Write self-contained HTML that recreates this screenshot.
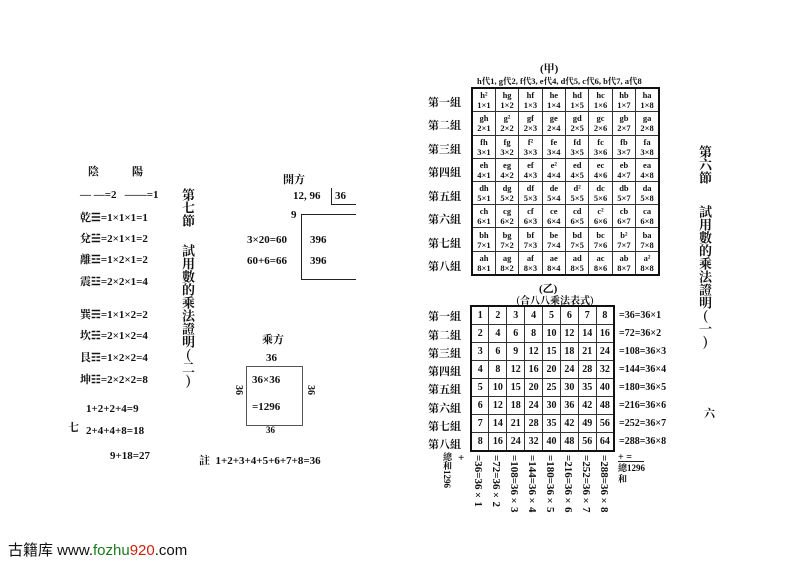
<!DOCTYPE html>
<html><head><meta charset="utf-8"><style>
body{margin:0;width:793px;height:561px;background:#fff;position:relative;overflow:hidden;font-family:"Liberation Serif","Noto Serif CJK SC",serif;color:#111;font-weight:bold}
.a{position:absolute;white-space:nowrap}
.v{position:absolute;writing-mode:vertical-rl;text-orientation:upright;font-size:13px;line-height:14px;font-family:"Noto Serif CJK SC",serif}
.vs{position:absolute;writing-mode:vertical-rl;font-size:11px;white-space:nowrap}
table{position:absolute;border-collapse:collapse;table-layout:fixed;border:2px solid #111}
td{border:1px solid #333;padding:0;text-align:center;overflow:hidden}
.j td{font-size:8.5px;line-height:10px}
.y td{font-size:10px}
.lb{position:absolute;font-size:11px;font-family:"Noto Serif CJK SC",serif}
.f{font-size:11px}
</style></head><body>
<!-- left page -->
<div class="a f" style="left:88px;top:163px">陰</div>
<div class="a f" style="left:132px;top:163px">陽</div>
<div class="a f" style="left:80px;top:189px">— —=2 &nbsp; ——=1</div>
<div class="a f" style="left:80px;top:209px">乾☰=1×1×1=1</div>
<div class="a f" style="left:80px;top:230px">兌☱=2×1×1=2</div>
<div class="a f" style="left:80px;top:251px">離☲=1×2×1=2</div>
<div class="a f" style="left:80px;top:273px">震☳=2×2×1=4</div>
<div class="a f" style="left:80px;top:306px">巽☴=1×1×2=2</div>
<div class="a f" style="left:80px;top:327px">坎☵=2×1×2=4</div>
<div class="a f" style="left:80px;top:349px">艮☶=1×2×2=4</div>
<div class="a f" style="left:80px;top:371px">坤☷=2×2×2=8</div>
<div class="a f" style="left:86px;top:403px">1+2+2+4=9</div>
<div class="a f" style="left:68px;top:419px">七</div>
<div class="a f" style="left:86px;top:425px">2+4+4+8=18</div>
<div class="a f" style="left:110px;top:450px">9+18=27</div>
<div class="v" style="left:181px;top:188px">第七節</div>
<div class="v" style="left:181px;top:244px">試用數的乘法證明(二)</div>
<div class="a f" style="left:283px;top:171px">開方</div>
<div class="a f" style="left:293px;top:190px">12, 96</div>
<div class="a" style="left:331px;top:188px;width:1px;height:16px;background:#222"></div>
<div class="a f" style="left:335px;top:190px">36</div>
<div class="a" style="left:331px;top:204px;width:25px;height:1px;background:#222"></div>
<div class="a" style="left:301px;top:214px;width:1px;height:66px;background:#222"></div>
<div class="a" style="left:301px;top:214px;width:55px;height:1px;background:#222"></div>
<div class="a" style="left:301px;top:279px;width:55px;height:1px;background:#222"></div>
<div class="a f" style="left:291px;top:209px">9</div>
<div class="a f" style="left:247px;top:234px">3×20=60</div>
<div class="a f" style="left:310px;top:234px">396</div>
<div class="a f" style="left:247px;top:255px">60+6=66</div>
<div class="a f" style="left:310px;top:255px">396</div>
<div class="a f" style="left:262px;top:331px">乘方</div>
<div class="a f" style="left:266px;top:352px">36</div>
<div class="a" style="left:246px;top:366px;width:55px;height:58px;border:1px solid #555"></div>
<div class="a f" style="left:252px;top:374px">36×36</div>
<div class="a f" style="left:252px;top:401px">=1296</div>
<div class="vs" style="left:233px;top:385px;font-size:10px">36</div>
<div class="vs" style="left:305px;top:385px;font-size:10px">36</div>
<div class="a" style="left:266px;top:425px;font-size:9px">36</div>
<div class="a f" style="left:199px;top:452px">註 &nbsp;1+2+3+4+5+6+7+8=36</div>
<!-- right page -->
<div class="a f" style="left:540px;top:60px">(甲)</div>
<div class="a" style="left:477px;top:75px;font-size:8.5px">h代1, g代2, f代3, e代4, d代5, c代6, b代7, a代8</div>
<table class="j" style="left:471px;top:87px;width:189px;height:189px">
<tr><td>h²<br>1×1</td><td>hg<br>1×2</td><td>hf<br>1×3</td><td>he<br>1×4</td><td>hd<br>1×5</td><td>hc<br>1×6</td><td>hb<br>1×7</td><td>ha<br>1×8</td></tr>
<tr><td>gh<br>2×1</td><td>g²<br>2×2</td><td>gf<br>2×3</td><td>ge<br>2×4</td><td>gd<br>2×5</td><td>gc<br>2×6</td><td>gb<br>2×7</td><td>ga<br>2×8</td></tr>
<tr><td>fh<br>3×1</td><td>fg<br>3×2</td><td>f²<br>3×3</td><td>fe<br>3×4</td><td>fd<br>3×5</td><td>fc<br>3×6</td><td>fb<br>3×7</td><td>fa<br>3×8</td></tr>
<tr><td>eh<br>4×1</td><td>eg<br>4×2</td><td>ef<br>4×3</td><td>e²<br>4×4</td><td>ed<br>4×5</td><td>ec<br>4×6</td><td>eb<br>4×7</td><td>ea<br>4×8</td></tr>
<tr><td>dh<br>5×1</td><td>dg<br>5×2</td><td>df<br>5×3</td><td>de<br>5×4</td><td>d²<br>5×5</td><td>dc<br>5×6</td><td>db<br>5×7</td><td>da<br>5×8</td></tr>
<tr><td>ch<br>6×1</td><td>cg<br>6×2</td><td>cf<br>6×3</td><td>ce<br>6×4</td><td>cd<br>6×5</td><td>c²<br>6×6</td><td>cb<br>6×7</td><td>ca<br>6×8</td></tr>
<tr><td>bh<br>7×1</td><td>bg<br>7×2</td><td>bf<br>7×3</td><td>be<br>7×4</td><td>bd<br>7×5</td><td>bc<br>7×6</td><td>b²<br>7×7</td><td>ba<br>7×8</td></tr>
<tr><td>ah<br>8×1</td><td>ag<br>8×2</td><td>af<br>8×3</td><td>ae<br>8×4</td><td>ad<br>8×5</td><td>ac<br>8×6</td><td>ab<br>8×7</td><td>a²<br>8×8</td></tr>
</table>
<div class="lb" style="left:428px;top:94px">第一組</div>
<div class="lb" style="left:428px;top:117px">第二組</div>
<div class="lb" style="left:428px;top:141px">第三組</div>
<div class="lb" style="left:428px;top:164px">第四組</div>
<div class="lb" style="left:428px;top:188px">第五組</div>
<div class="lb" style="left:428px;top:211px">第六組</div>
<div class="lb" style="left:428px;top:235px">第七組</div>
<div class="lb" style="left:428px;top:258px">第八組</div>
<div class="a f" style="left:539px;top:280px">(乙)</div>
<div class="a" style="left:516px;top:292px;font-size:10px;font-family:'Noto Serif CJK SC',serif">(合八八乘法表式)</div>
<table class="y" style="left:470px;top:305px;width:145px;height:147px">
<tr><td>1</td><td>2</td><td>3</td><td>4</td><td>5</td><td>6</td><td>7</td><td>8</td></tr>
<tr><td>2</td><td>4</td><td>6</td><td>8</td><td>10</td><td>12</td><td>14</td><td>16</td></tr>
<tr><td>3</td><td>6</td><td>9</td><td>12</td><td>15</td><td>18</td><td>21</td><td>24</td></tr>
<tr><td>4</td><td>8</td><td>12</td><td>16</td><td>20</td><td>24</td><td>28</td><td>32</td></tr>
<tr><td>5</td><td>10</td><td>15</td><td>20</td><td>25</td><td>30</td><td>35</td><td>40</td></tr>
<tr><td>6</td><td>12</td><td>18</td><td>24</td><td>30</td><td>36</td><td>42</td><td>48</td></tr>
<tr><td>7</td><td>14</td><td>21</td><td>28</td><td>35</td><td>42</td><td>49</td><td>56</td></tr>
<tr><td>8</td><td>16</td><td>24</td><td>32</td><td>40</td><td>48</td><td>56</td><td>64</td></tr>
</table>
<div class="lb" style="left:428px;top:308px">第一組</div>
<div class="lb" style="left:428px;top:327px">第二組</div>
<div class="lb" style="left:428px;top:345px">第三組</div>
<div class="lb" style="left:428px;top:363px">第四組</div>
<div class="lb" style="left:428px;top:381px">第五組</div>
<div class="lb" style="left:428px;top:400px">第六組</div>
<div class="lb" style="left:428px;top:418px">第七組</div>
<div class="lb" style="left:428px;top:436px">第八組</div>
<div class="a" style="left:619px;top:310px;font-size:10px">=36=36×1</div>
<div class="a" style="left:619px;top:328px;font-size:10px">=72=36×2</div>
<div class="a" style="left:619px;top:346px;font-size:10px">=108=36×3</div>
<div class="a" style="left:619px;top:364px;font-size:10px">=144=36×4</div>
<div class="a" style="left:619px;top:382px;font-size:10px">=180=36×5</div>
<div class="a" style="left:619px;top:400px;font-size:10px">=216=36×6</div>
<div class="a" style="left:619px;top:418px;font-size:10px">=252=36×7</div>
<div class="a" style="left:619px;top:436px;font-size:10px">=288=36×8</div>
<div class="vs" style="left:472px;top:455px">=36=36×1</div>
<div class="vs" style="left:490px;top:455px">=72=36×2</div>
<div class="vs" style="left:508px;top:455px">=108=36×3</div>
<div class="vs" style="left:526px;top:455px">=144=36×4</div>
<div class="vs" style="left:544px;top:455px">=180=36×5</div>
<div class="vs" style="left:562px;top:455px">=216=36×6</div>
<div class="vs" style="left:580px;top:455px">=252=36×7</div>
<div class="vs" style="left:598px;top:455px">=288=36×8</div>
<div class="a" style="left:458px;top:452px;font-size:11px">+</div>
<div class="vs" style="left:441px;top:452px;font-size:9px">總和1296</div>
<div class="a" style="left:618px;top:452px;font-size:10px">+ =</div>
<div class="a" style="left:618px;top:461px;width:26px;height:1px;background:#222"></div>
<div class="a" style="left:618px;top:461px;font-size:9px">總1296</div>
<div class="a" style="left:618px;top:472px;font-size:9px">和</div>
<div class="v" style="left:698px;top:145px">第六節</div>
<div class="v" style="left:698px;top:205px">試用數的乘法證明(一)</div>
<div class="a f" style="left:704px;top:405px">六</div>
<div class="a" style="left:8px;top:539px;font-size:15px;font-weight:normal;font-family:'Liberation Sans','Noto Sans CJK SC',sans-serif">古籍库 www.<span style="color:#1a7a1a">fozhu</span><span style="color:#c21">920</span>.com</div>
</body></html>
